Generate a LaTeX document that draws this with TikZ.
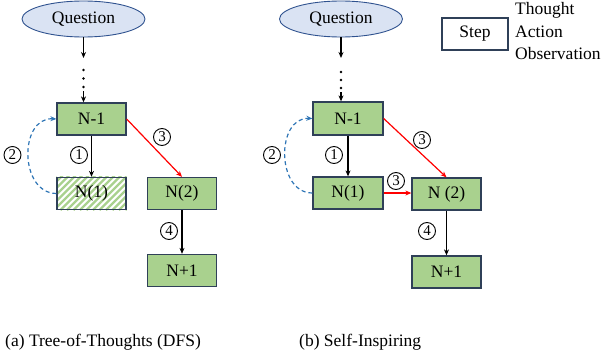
\documentclass[tikz,border=0pt]{standalone}
\usepackage{fontspec}
\setmainfont{Liberation Serif}
\usetikzlibrary{arrows.meta,shapes.geometric}
\definecolor{boxgreen}{HTML}{A9D18E}
\definecolor{boxborder}{HTML}{2F4058}
\definecolor{qfill}{HTML}{DAE3F3}
\definecolor{qborder}{HTML}{2F528F}
\definecolor{dashblue}{HTML}{2E75B6}
\definecolor{hatchgreen}{HTML}{A9D18E}
\tikzset{
  every node/.style={font=\fontsize{17.5}{21}\selectfont},
  stepbox/.style={draw=boxborder, line width=1.3pt, fill=boxgreen, minimum width=69pt, minimum height=32pt, inner sep=0pt},
  hatchbox/.style={draw=boxborder, line width=1.3pt, minimum width=69pt, minimum height=32pt, inner sep=0pt},
  legendbox/.style={draw=boxborder, line width=1.3pt, fill=white, minimum width=66pt, minimum height=32pt, inner sep=0pt},
  qnode/.style={ellipse, draw=qborder, line width=0.9pt, fill=qfill, minimum width=123pt, minimum height=36pt, inner sep=0pt},
  num/.style={circle, draw=black, line width=0.9pt, minimum size=17pt, inner sep=0pt, font=\fontsize{15}{15}\selectfont},
  arr/.style={-{Stealth[length=6pt,width=5pt]}, line width=1.2pt, black},
  redarr/.style={-{Stealth[length=6pt,width=5pt]}, line width=1.2pt, red},
  bluearr/.style={-{Stealth[length=6pt,width=5pt]}, line width=1.2pt, dashblue, dash pattern=on 4pt off 3pt},
  dot/.style={circle, fill=black, inner sep=0pt, minimum size=2.8pt},
  txt/.style={inner sep=0pt, anchor=west}
}
\begin{document}
\begin{tikzpicture}[x=1pt,y=-1pt]
\useasboundingbox (0,0) rectangle (603,356);

% ---------- left panel ----------
\node[qnode] (qa) at (83.5,19) {Question};
\coordinate (qa1) at (83.5,58);
\node[dot] (da1) at (83.5,70) {};
\node[dot] (da2) at (83.5,78.5) {};
\node[dot] (da3) at (83.5,87) {};
\coordinate (qa2) at (83.5,91);
\node[stepbox] (an1) at (91.5,119) {N-1};
\node[hatchbox] (ac1) at (91.5,193.5) {};
\begin{scope}
  \clip (ac1.south west) rectangle (ac1.north east);
  \foreach \i in {-42,-35.5,...,80} {
    \draw[hatchgreen, line width=2.3pt] (57+\i,210) -- ++(40,-40);
  }
\end{scope}
\node[hatchbox, fill=none] (ac1b) at (91.5,193.5) {N(1)};
\node[stepbox] (ac2) at (182,193.5) {N(2)};
\node[stepbox] (ap1) at (182,270.5) {N+1};

\draw[arr] (qa.south) -- (qa1);
\draw[arr] (qa2) -- (qa2 |- an1.north);
\draw[arr] (an1.south) -- (ac1b.north);
\draw[redarr] (an1.east) -- (ac2.north);
\draw[arr] (ac2.south) -- (ap1.north);
\draw[bluearr] (ac1b.west) .. controls (19,193) and (19,117) .. (an1.west);

\node[num] (a1) at (79,155) {1};
\node[num] (a2) at (12.5,155) {2};
\node[num] (a3) at (162,137) {3};
\node[num] (a4) at (169,231) {4};

% ---------- right panel ----------
\node[qnode] (qb) at (341,19) {Question};
\coordinate (qb1) at (341,58);
\node[dot] (db1) at (341,72) {};
\node[dot] (db2) at (341,80) {};
\node[dot] (db3) at (341,88) {};
\coordinate (qb2) at (341,92);
\node[stepbox, minimum width=70pt, minimum height=33pt] (bn1) at (348,118.5) {N-1};
\node[stepbox, minimum width=70pt] (bc1) at (348,193) {N(1)};
\node[stepbox] (bc2) at (446.5,194) {N (2)};
\node[stepbox] (bp1) at (446.5,272) {N+1};

\draw[arr] (qb.south) -- (qb1);
\draw[arr] (qb2) -- (qb2 |- bn1.north);
\draw[arr] (bn1.south) -- (bc1.north);
\draw[redarr] (bn1.east) -- (bc2.north);
\draw[redarr] (bc1.east) -- (bc2.west |- bc1.east);
\draw[arr] (bc2.south) -- (bp1.north);
\draw[bluearr] (bc1.west) .. controls (276,193) and (276,117) .. (bn1.west);

\node[num] (b1) at (334,155) {1};
\node[num] (b2) at (272,155) {2};
\node[num] (b3) at (422,140) {3};
\node[num] (b3b) at (396,181) {3};
\node[num] (b4) at (427,231) {4};

% ---------- legend ----------
\node[legendbox] (leg) at (475,34) {Step};
\node[txt] (t1) at (515,10) {Thought};
\node[txt] (t2) at (515,32) {Action};
\node[txt] (t3) at (515,54) {Observation};

% ---------- captions ----------
\node[txt] (capa) at (5,342) {(a) Tree-of-Thoughts (DFS)};
\node[txt] (capb) at (299,342) {(b) Self-Inspiring};
\end{tikzpicture}
\end{document}
